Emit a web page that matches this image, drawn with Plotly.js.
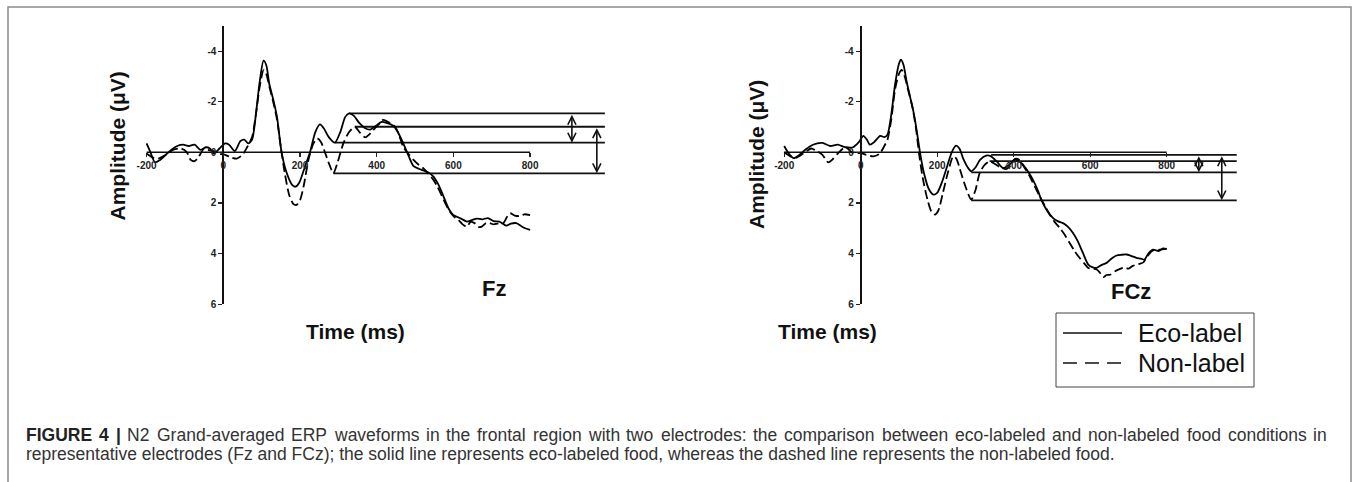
<!DOCTYPE html>
<html>
<head>
<meta charset="utf-8">
<script src="https://cdn.plot.ly/plotly-3.0.1.min.js"></script>
<style>html,body{margin:0;padding:0;background:#fff;}#chart{width:1354px;height:482px;}</style>
</head>
<body>
<div id="chart"></div>
<script>
// ---------------- DATA ----------------
const yTicks = [-4, -2, 0, 2, 4, 6];
const xTicks = [-200, 0, 200, 400, 600, 800];
const seriesNames = ['Eco-label', 'Non-label'];
const electrodes = ['Fz', 'FCz'];

// Fz — Eco-label (solid)
const fzEcoTime = [-200,-190,-178,-165,-150,-135,-120,-105,-90,-75,-60,-45,-35,-25,-10,5,15,30,45,55,65,75,85,95,105,112,120,130,140,152,165,180,188,198,210,226,240,252,262,275,291,305,318,328,340,355,370,383,398,413,428,443,455,469,482,496,510,522,535,548,560,573,587,598,609,620,635,648,661,675,690,705,720,738,750,764,780,800];
const fzEco = [-0.35,0.0,0.4,0.3,0.1,-0.1,-0.25,-0.3,-0.25,-0.3,-0.1,-0.2,-0.15,0.05,-0.15,-0.35,-0.3,-0.05,-0.45,-0.5,-0.35,-0.5,-1.5,-2.8,-3.62,-3.45,-2.7,-2.1,-1.4,0.0,0.8,1.3,1.36,1.2,0.7,0.0,-0.8,-1.1,-0.95,-0.6,-0.38,-0.8,-1.4,-1.54,-1.45,-1.15,-0.95,-0.9,-1.05,-1.2,-1.15,-1.05,-0.8,-0.36,0.1,0.55,0.65,0.72,0.8,0.96,1.25,1.7,2.21,2.45,2.55,2.62,2.74,2.68,2.62,2.65,2.6,2.72,2.74,2.9,2.82,2.8,2.95,3.07];
// Fz — Non-label (dashed)
const fzNonTime = [-200,-185,-170,-150,-130,-110,-95,-85,-75,-65,-50,-40,-25,-10,5,20,35,50,62,75,85,95,105,112,120,130,140,150,160,172,183,191,200,210,222,235,245,255,265,277,287,298,313,328,343,355,370,380,391,405,417,430,448,458,469,482,496,510,522,535,548,558,569,580,591,602,613,624,635,645,655,665,674,685,695,705,715,730,740,748,760,774,785,800];
const fzNon = [0.05,0.2,0.25,0.1,-0.1,-0.15,0.0,0.3,0.35,0.2,-0.15,-0.1,-0.05,0.05,0.1,0.2,0.25,0.1,-0.2,-0.6,-1.5,-2.6,-3.25,-3.1,-2.6,-2.0,-1.3,-0.2,0.8,1.7,2.05,2.08,1.9,1.3,0.3,-0.35,-0.55,-0.4,0.0,0.5,0.83,0.4,-0.35,-0.8,-1.01,-0.8,-0.59,-0.7,-0.88,-1.1,-1.28,-1.2,-1.01,-0.7,-0.22,0.05,0.3,0.5,0.64,0.85,1.09,1.35,1.69,2.05,2.35,2.55,2.67,2.85,2.94,2.75,2.8,2.95,2.94,2.8,2.8,2.85,2.82,2.8,2.55,2.41,2.5,2.52,2.45,2.48];

// FCz — Eco-label (solid)
const fczEcoTime = [-200,-188,-175,-160,-145,-125,-100,-80,-60,-40,-20,-5,7,16,24,35,51,62,70,80,90,100,105,112,120,129,138,146,155,165,178,190,200,212,225,238,249,258,268,280,289,300,312,328,340,355,372,388,403,414,424,437,450,463,472,487,503,515,529,542,555,567,581,595,607,617,630,643,656,669,682,695,708,721,732,742,752,764,780,790,800];
const fczEco = [-0.25,0.05,0.23,0.1,-0.1,-0.3,-0.37,-0.25,-0.3,-0.2,-0.2,-0.4,-0.65,-0.5,-0.3,-0.4,-0.65,-0.6,-0.7,-1.5,-2.7,-3.5,-3.66,-3.45,-2.8,-2.2,-1.6,-0.9,0.0,0.8,1.45,1.67,1.6,1.2,0.6,0.0,-0.26,-0.15,0.25,0.6,0.75,0.6,0.3,0.13,0.15,0.35,0.62,0.5,0.29,0.35,0.49,0.75,1.08,1.5,1.87,2.3,2.6,2.72,2.8,2.95,3.19,3.5,3.98,4.44,4.55,4.57,4.45,4.37,4.2,4.08,4.05,4.04,4.1,4.17,4.2,4.24,4.0,3.85,3.9,3.8,3.82];
// FCz — Non-label (dashed)
const fczNonTime = [-200,-185,-170,-150,-130,-115,-100,-85,-75,-60,-40,-20,0,15,33,50,60,70,80,90,100,107,115,125,135,145,152,162,175,185,194,203,215,228,242,250,262,275,289,300,311,324,337,350,363,381,392,403,415,428,442,455,468,481,494,507,520,533,546,559,572,585,595,606,617,625,634,643,652,665,678,690,700,710,721,731,739,750,764,775,782,800];
const fczNon = [0.0,0.15,0.22,0.05,-0.15,-0.05,0.1,0.4,0.3,0.05,-0.2,0.03,0.03,0.1,0.16,0.05,-0.2,-0.5,-1.3,-2.5,-3.1,-3.26,-3.0,-2.4,-1.8,-0.9,0.0,1.0,1.9,2.35,2.46,2.3,1.6,0.8,0.16,0.25,0.8,1.4,1.87,1.5,0.82,0.5,0.36,0.45,0.58,0.66,0.5,0.26,0.3,0.6,0.95,1.35,1.74,2.1,2.46,2.75,2.98,3.25,3.58,3.9,4.17,4.4,4.57,4.6,4.63,4.75,4.93,4.85,4.84,4.7,4.61,4.55,4.6,4.5,4.44,4.4,4.35,4.1,3.88,3.9,3.85,3.82];

// N2 peak/trough reference levels (µV) and their onset latencies (ms)
const fzLevels = [-1.54, -1.01, -0.38, 0.83];
const fzLevelOnsets = [328, 343, 291, 287];
const fczLevels = [0.1, 0.35, 0.79, 1.9];
const fczLevelOnsets = [341, 337, 289, 289];
// amplitude arrows: [from level, to level]
const fzArrowSpans = [[-1.54, -0.38], [-1.01, 0.83]];
const fczArrowSpans = [[0.1, 0.79], [0.1, 1.9]];

// caption
const captionLabel = 'FIGURE 4 |';
const captionLine1 = 'N2 Grand-averaged ERP waveforms in the frontal region with two electrodes: the comparison between eco-labeled and non-labeled food conditions in';
const captionLine2 = 'representative electrodes (Fz and FCz); the solid line represents eco-labeled food, whereas the dashed line represents the non-labeled food.';

// ---------------- LAYOUT HELPERS ----------------
const W = 1354, H = 482;
const PX = p => p / W;
const PY = p => 1 - p / H;
const FONT = 'Liberation Sans, Arial, Helvetica, sans-serif';

const panels = [
  {xa:'x', ya:'y', axisPx:223.3, scale:0.3835, dom:[140,620], lineEnd:995, arrowX:[909,974],
   eco:[fzEcoTime,fzEco], non:[fzNonTime,fzNon], levels:fzLevels, onsets:fzLevelOnsets, arrows:fzArrowSpans},
  {xa:'x2', ya:'y2', axisPx:860.7, scale:0.3825, dom:[777,1260], lineEnd:983, arrowX:[884,944],
   eco:[fczEcoTime,fczEco], non:[fczNonTime,fczNon], levels:fczLevels, onsets:fczLevelOnsets, arrows:fczArrowSpans}
];

const traces = [];
const annotations = [];
const layout = {
  width: W, height: H,
  margin: {l:0, r:0, t:0, b:0, pad:0},
  paper_bgcolor: '#fff', plot_bgcolor: 'rgba(0,0,0,0)',
  showlegend: false,
  font: {family: FONT, color: '#111'},
  shapes: [],
  annotations: annotations
};

const yDom = [PY(304.1), PY(25.8)];

panels.forEach((p, i) => {
  const sfx = i === 0 ? '' : '2';
  const r0 = (p.dom[0] - p.axisPx) / p.scale;
  const r1 = (p.dom[1] - p.axisPx) / p.scale;
  layout['xaxis' + sfx] = {
    domain: [PX(p.dom[0]), PX(p.dom[1])], range: [r0, r1],
    anchor: 'free', position: PY(152.3),
    showline: false, showgrid: false, zeroline: false,
    tickmode: 'array', tickvals: xTicks, ticktext: xTicks.map(String),
    ticks: 'outside', ticklen: 4, tickwidth: 1.2, tickcolor: '#222',
    tickfont: {family: FONT, size: 10, color: '#222', weight: 'bold'},
    fixedrange: true
  };
  layout['yaxis' + sfx] = {
    domain: yDom, range: [6, -5],
    anchor: 'free', position: PX(p.axisPx),
    showline: true, linecolor: '#111', linewidth: 2,
    showgrid: false, zeroline: false,
    tickmode: 'array', tickvals: yTicks, ticktext: yTicks.map(String),
    ticks: 'outside', ticklen: 4, tickwidth: 1.2, tickcolor: '#222',
    tickfont: {family: FONT, size: 10, color: '#222', weight: 'bold'},
    fixedrange: true
  };

  // x axis line (-200..800 at 0 µV)
  traces.push({type:'scatter', mode:'lines', x:[xTicks[0], xTicks[xTicks.length-1]], y:[0,0],
    xaxis:p.xa, yaxis:p.ya, line:{color:'#111', width:1.5}, hoverinfo:'skip'});

  // reference levels
  p.levels.forEach((lv, k) => {
    traces.push({type:'scatter', mode:'lines', x:[p.onsets[k], p.lineEnd], y:[lv, lv],
      xaxis:p.xa, yaxis:p.ya, line:{color:'#111', width:1.8}, hoverinfo:'skip'});
  });

  // waveforms
  traces.push({type:'scatter', mode:'lines', name:seriesNames[0], x:p.eco[0], y:p.eco[1],
    xaxis:p.xa, yaxis:p.ya, line:{color:'#000', width:1.8, shape:'spline', smoothing:0.7}});
  traces.push({type:'scatter', mode:'lines', name:seriesNames[1], x:p.non[0], y:p.non[1],
    xaxis:p.xa, yaxis:p.ya, line:{color:'#000', width:1.8, dash:'9px,4px', shape:'spline', smoothing:0.7}});

  // double-headed amplitude arrows
  p.arrows.forEach((sp, k) => {
    annotations.push({xref:p.xa, yref:p.ya, axref:p.xa, ayref:p.ya,
      x:p.arrowX[k], y:sp[1], ax:p.arrowX[k], ay:sp[0], text:'',
      showarrow:true, arrowhead:5, startarrowhead:5, arrowside:'end+start',
      arrowsize:1, startarrowsize:1, arrowwidth:1.6, arrowcolor:'#111', standoff:0, startstandoff:0});
  });
});

// axis titles and electrode labels
const titleFont = {family: FONT, size: 21, color: '#111', weight: 'bold'};
[[116.5,146],[757,155]].forEach(pos => annotations.push({xref:'paper', yref:'paper', x:PX(pos[0]), y:PY(pos[1]),
  text:'Amplitude (μV)', textangle:-90, showarrow:false, font:titleFont, xanchor:'center', yanchor:'middle'}));
[[355,331],[827,331]].forEach(pos => annotations.push({xref:'paper', yref:'paper', x:PX(pos[0]), y:PY(pos[1]),
  text:'Time (ms)', showarrow:false, font:titleFont, xanchor:'center', yanchor:'middle'}));
annotations.push({xref:'paper', yref:'paper', x:PX(494), y:PY(288), text:electrodes[0], showarrow:false,
  font:{family: FONT, size: 22, color:'#111', weight:'bold'}, xanchor:'center', yanchor:'middle'});
annotations.push({xref:'paper', yref:'paper', x:PX(1131), y:PY(291.5), text:electrodes[1], showarrow:false,
  font:{family: FONT, size: 22, color:'#111', weight:'bold'}, xanchor:'center', yanchor:'middle'});

// legend box (drawn)
layout.shapes.push({type:'rect', xref:'paper', yref:'paper', x0:PX(1056), x1:PX(1254), y0:PY(387), y1:PY(313),
  line:{color:'#444', width:1}, fillcolor:'#fff'});
layout.shapes.push({type:'line', xref:'paper', yref:'paper', x0:PX(1063), x1:PX(1122), y0:PY(333), y1:PY(333),
  line:{color:'#111', width:1.5}});
layout.shapes.push({type:'line', xref:'paper', yref:'paper', x0:PX(1063), x1:PX(1122), y0:PY(363), y1:PY(363),
  line:{color:'#111', width:1.5, dash:'14px,8px'}});
annotations.push({xref:'paper', yref:'paper', x:PX(1136), y:PY(333), text:seriesNames[0], showarrow:false,
  font:{family: FONT, size: 25, color:'#111'}, xanchor:'left', yanchor:'middle'});
annotations.push({xref:'paper', yref:'paper', x:PX(1136), y:PY(363), text:seriesNames[1], showarrow:false,
  font:{family: FONT, size: 25, color:'#111'}, xanchor:'left', yanchor:'middle'});

// figure frame
layout.shapes.push({type:'rect', xref:'paper', yref:'paper', x0:PX(8), x1:PX(1351), y0:PY(520), y1:PY(7),
  line:{color:'#8a8a8a', width:1.5}, fillcolor:'rgba(0,0,0,0)', layer:'below'});

// caption: line 1 justified to the full text width, line 2 ragged
const CAP_SIZE = 17.5, CAP_LEFT = 25, CAP_RIGHT = 1326;
const cv = document.createElement('canvas').getContext('2d');
function measure(txt, bold) {
  cv.font = (bold ? 'bold ' : '') + CAP_SIZE + 'px "Liberation Sans", Arial, sans-serif';
  return cv.measureText(txt).width;
}
const tokens = captionLabel.split(' ').map(w => ({w, b:true}))
  .concat(captionLine1.split(' ').map(w => ({w, b:false})));
const widths = tokens.map(t => measure(t.w, t.b));
const totalW = widths.reduce((a, b) => a + b, 0);
const gap = (CAP_RIGHT - CAP_LEFT - totalW) / (tokens.length - 1);
let cx = CAP_LEFT;
tokens.forEach((t, k) => {
  annotations.push({xref:'paper', yref:'paper', x:PX(cx), y:PY(435), xanchor:'left', yanchor:'middle',
    showarrow:false, borderpad:0, font:{family: FONT, size: CAP_SIZE, color: t.b ? '#222' : '#333', weight: t.b ? 'bold' : 'normal'},
    text: t.w});
  cx += widths[k] + gap;
});
annotations.push({xref:'paper', yref:'paper', x:PX(CAP_LEFT), y:PY(454), xanchor:'left', yanchor:'middle', showarrow:false,
  borderpad:0, font:{family: FONT, size: CAP_SIZE, color: '#333'}, align:'left', text: captionLine2});

Plotly.newPlot('chart', traces, layout, {staticPlot:true, displayModeBar:false});
</script>
</body>
</html>
